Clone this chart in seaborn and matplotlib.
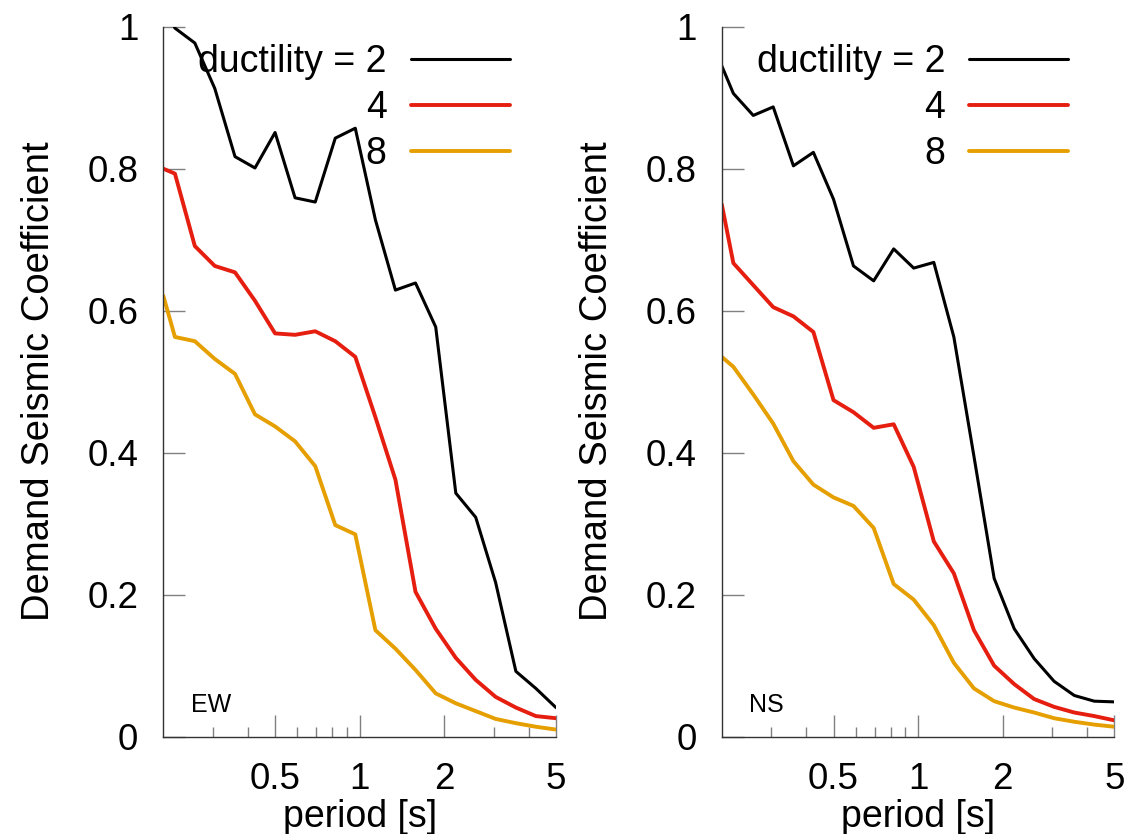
import matplotlib
matplotlib.use("Agg")
import matplotlib.pyplot as plt
import pandas as pd
import seaborn as sns
from matplotlib.ticker import FixedLocator, FixedFormatter, NullFormatter

# Natural period of the structure [s]
periods = [0.2, 0.22, 0.259, 0.305, 0.36, 0.424, 0.5, 0.589, 0.695, 0.819, 0.965,
           1.138, 1.341, 1.581, 1.866, 2.2, 2.59, 3.05, 3.6, 4.24, 5.0]

# Demand seismic coefficient, EW component
ew_mu2 = [1.03, 0.998, 0.977, 0.913, 0.817, 0.801, 0.851, 0.759, 0.753, 0.843, 0.857,
          0.728, 0.629, 0.639, 0.577, 0.343, 0.309, 0.217, 0.092, 0.068, 0.041]
ew_mu4 = [0.80, 0.793, 0.691, 0.663, 0.654, 0.614, 0.568, 0.566, 0.571, 0.557, 0.535,
          0.450, 0.362, 0.204, 0.152, 0.111, 0.080, 0.056, 0.041, 0.029, 0.026]
ew_mu8 = [0.621, 0.563, 0.557, 0.532, 0.511, 0.454, 0.437, 0.416, 0.381, 0.298, 0.285,
          0.150, 0.124, 0.094, 0.061, 0.047, 0.036, 0.025, 0.019, 0.014, 0.010]

# Demand seismic coefficient, NS component
ns_mu2 = [0.945, 0.906, 0.875, 0.887, 0.804, 0.823, 0.757, 0.663, 0.642, 0.687, 0.660,
          0.668, 0.563, 0.395, 0.223, 0.152, 0.110, 0.078, 0.058, 0.050, 0.049]
ns_mu4 = [0.750, 0.667, 0.636, 0.605, 0.592, 0.570, 0.474, 0.457, 0.435, 0.440, 0.380,
          0.275, 0.230, 0.150, 0.100, 0.074, 0.053, 0.042, 0.034, 0.029, 0.023]
ns_mu8 = [0.535, 0.521, 0.482, 0.441, 0.388, 0.355, 0.337, 0.325, 0.294, 0.215, 0.193,
          0.157, 0.104, 0.068, 0.050, 0.041, 0.034, 0.026, 0.021, 0.017, 0.014]

ductility_labels = ["ductility = 2", "4", "8"]
components = ["EW", "NS"]
x_major = [0.5, 1, 2, 5]
x_major_labels = ["0.5", "1", "2", "5"]
x_minor = [0.3, 0.4, 0.6, 0.7, 0.8, 0.9, 3, 4]
y_major = [0, 0.2, 0.4, 0.6, 0.8, 1.0]
y_major_labels = ["0", "0.2", "0.4", "0.6", "0.8", "1"]

palette = dict(zip(ductility_labels, ["#000000", "#e51e10", "#e69f00"]))
widths = dict(zip(ductility_labels, [2.2, 2.8, 2.8]))

sns.set_style("ticks")
plt.rcParams["font.family"] = ["Liberation Sans", "DejaVu Sans"]
plt.rcParams["text.color"] = "black"
plt.rcParams["axes.labelcolor"] = "black"
plt.rcParams["legend.labelcolor"] = "black"


def long_frame(series):
    rows = []
    for lab, vals in zip(ductility_labels, series):
        for p, v in zip(periods, vals):
            rows.append({"period": p, "coef": v, "ductility": lab})
    return pd.DataFrame(rows)


frames = {"EW": long_frame([ew_mu2, ew_mu4, ew_mu8]),
          "NS": long_frame([ns_mu2, ns_mu4, ns_mu8])}

fig = plt.figure(figsize=(11.27, 8.34), dpi=100)
ax_left = [0.1449, 0.6404]
tick_color = "#808080"

for comp, left in zip(components, ax_left):
    ax = fig.add_axes([left, 0.1167, 0.3484, 0.8513])
    sns.lineplot(data=frames[comp], x="period", y="coef", hue="ductility",
                 size="ductility", hue_order=ductility_labels,
                 size_order=ductility_labels, palette=palette, sizes=widths,
                 estimator=None, sort=False, ax=ax)
    ax.set_xscale("log")
    ax.set_xlim(0.2, 5)
    ax.set_ylim(0, 1)
    ax.xaxis.set_major_locator(FixedLocator(x_major))
    ax.xaxis.set_major_formatter(FixedFormatter(x_major_labels))
    ax.xaxis.set_minor_locator(FixedLocator(x_minor))
    ax.xaxis.set_minor_formatter(NullFormatter())
    ax.yaxis.set_major_locator(FixedLocator(y_major))
    ax.yaxis.set_major_formatter(FixedFormatter(y_major_labels))
    ax.yaxis.set_minor_locator(FixedLocator([]))

    for side in ["top", "right"]:
        ax.spines[side].set_visible(False)
    for side in ["left", "bottom"]:
        ax.spines[side].set_linewidth(1.0)
        ax.spines[side].set_color("#333333")
    ax.tick_params(which="major", direction="in", length=15.6, width=1.0,
                   color=tick_color, labelsize=26.5, pad=18, labelcolor="black")
    ax.tick_params(which="minor", direction="in", length=7.2, width=1.0,
                   color=tick_color)

    ax.set_xlabel("period [s]", fontsize=27, labelpad=2, color="black")
    ax.set_ylabel("Demand Seismic Coefficient", fontsize=27.5, labelpad=22,
                  color="black")
    ax.text(0.07, 0.035, comp, transform=ax.transAxes, fontsize=18,
            ha="left", va="baseline", color="black")

    handles, labels = ax.get_legend_handles_labels()
    leg = ax.legend(handles, labels, loc="upper right",
                    bbox_to_anchor=(0.883, 0.975), markerfirst=False,
                    frameon=False, fontsize=27, borderpad=0,
                    handlelength=2.64, handletextpad=0.65, labelspacing=0.26,
                    borderaxespad=0)
    for t in leg.get_texts():
        t.set_color("black")

fig.savefig("out.png", dpi=100)
